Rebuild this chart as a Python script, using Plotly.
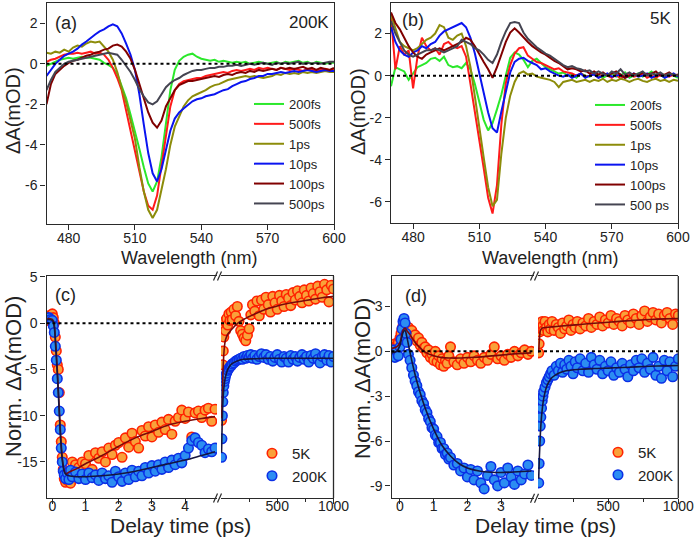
import plotly.graph_objects as go

W, H = 696, 542
def X(p):
    return p / W
def Y(p):
    return 1 - p / H

FONT = "Liberation Sans, Arial, Helvetica, sans-serif"
AX = "#2a2a2a"

# ---------------- spectra (panels a, b) ----------------
wavelength = [470, 472, 474, 476, 478, 480, 482, 484, 486, 488, 490,
              492, 494, 496, 498, 500, 502, 504, 506, 508, 510, 512,
              514, 516, 518, 520, 522, 524, 526, 528, 530, 532, 534,
              536, 538, 540, 542, 544, 546, 548, 550, 552, 554, 556,
              558, 560, 562, 564, 566, 568, 570, 572, 574, 576, 578,
              580, 582, 584, 586, 588, 590, 592, 594, 596, 598, 600]

spec_labels_a = ["200fs", "500fs", "1ps", "10ps", "100ps", "500ps"]
spec_labels_b = ["200fs", "500fs", "1ps", "10ps", "100ps", "500 ps"]

a_200fs = [-0.1, 0.0, 0.1, 0.2, 0.25, 0.3, 0.25, 0.3, 0.35, 0.3, 0.3,
           0.25, 0.2, 0.05, -0.05, -0.2, -0.5, -1.1, -1.7, -2.5, -3.3, -4.2,
           -5.1, -5.9, -6.3, -5.8, -4.6, -2.9, -1.3, -0.3, 0.15, 0.35, 0.45,
           0.5, 0.35, 0.25, 0.2, 0.15, 0.2, 0.1, 0.15, 0.1, 0.05, 0.1,
           0.05, 0.1, 0.0, 0.05, 0.1, 0.05, 0.0, 0.05, 0.1, 0.0, 0.1,
           0.05, 0.1, 0.15, 0.05, 0.1, 0.0, 0.1, 0.05, 0.0, 0.05, 0.05]
a_500fs = [0.1, 0.2, 0.25, 0.35, 0.45, 0.5, 0.5, 0.55, 0.5, 0.55, 0.6,
           0.5, 0.55, 0.45, 0.2, -0.2, -0.7, -1.3, -2.3, -3.3, -4.4, -5.4,
           -6.3, -7.0, -7.2, -6.5, -5.0, -3.4, -2.1, -1.3, -1.0, -0.85, -0.8,
           -0.75, -0.7, -0.7, -0.6, -0.55, -0.5, -0.45, -0.4, -0.45, -0.35, -0.3,
           -0.35, -0.3, -0.25, -0.3, -0.2, -0.25, -0.2, -0.25, -0.3, -0.2, -0.25,
           -0.3, -0.25, -0.3, -0.35, -0.25, -0.3, -0.35, -0.3, -0.25, -0.3, -0.3]
a_1ps = [0.55, 0.5, 0.6, 0.55, 0.7, 0.6, 0.8, 0.9, 0.85, 1.0, 1.1,
         1.05, 1.1, 0.85, 0.6, 0.2, -0.4, -1.2, -1.9, -2.8, -3.7, -5.1,
         -6.3, -7.2, -7.6, -7.2, -6.2, -5.2, -4.0, -3.1, -2.6, -2.1, -1.8,
         -1.6, -1.5, -1.4, -1.3, -1.15, -1.05, -1.0, -0.9, -0.8, -0.75, -0.7,
         -0.65, -0.6, -0.65, -0.6, -0.65, -0.7, -0.65, -0.6, -0.5, -0.55, -0.45,
         -0.5, -0.45, -0.5, -0.4, -0.45, -0.4, -0.45, -0.4, -0.35, -0.4, -0.4]
a_10ps = [-0.6, -0.3, 0.0, 0.2, 0.4, 0.5, 0.6, 0.75, 0.95, 1.1, 1.3,
          1.45, 1.6, 1.7, 1.85, 1.95, 1.85, 1.5, 1.0, 0.45, -0.3, -1.5,
          -3.0, -4.4, -5.4, -5.8, -5.2, -4.2, -3.3, -2.7, -2.4, -2.2, -2.0,
          -1.85, -1.75, -1.7, -1.6, -1.55, -1.5, -1.4, -1.3, -1.25, -1.1, -1.0,
          -0.9, -0.85, -0.75, -0.7, -0.6, -0.6, -0.5, -0.5, -0.45, -0.4, -0.45,
          -0.4, -0.35, -0.4, -0.35, -0.3, -0.35, -0.4, -0.35, -0.3, -0.35, -0.35]
a_100ps = [-2.0, -1.0, -0.5, -0.3, -0.1, 0.05, 0.15, 0.2, 0.3, 0.4, 0.45,
           0.55, 0.6, 0.7, 0.75, 0.9, 0.95, 0.85, 0.6, 0.25, -0.3, -1.0,
           -1.7, -2.4, -2.9, -3.15, -2.8, -2.1, -1.7, -1.3, -1.05, -0.95, -0.85,
           -0.85, -0.8, -0.75, -0.7, -0.65, -0.6, -0.65, -0.55, -0.5, -0.55, -0.45,
           -0.4, -0.45, -0.35, -0.4, -0.3, -0.35, -0.3, -0.25, -0.3, -0.2, -0.25,
           -0.2, -0.25, -0.2, -0.15, -0.25, -0.2, -0.3, -0.2, -0.25, -0.3, -0.2]
a_500ps = [-1.3, -0.8, -0.4, -0.2, 0.0, 0.1, 0.15, 0.2, 0.25, 0.3, 0.35,
           0.4, 0.45, 0.5, 0.55, 0.5, 0.45, 0.2, -0.1, -0.4, -0.8, -1.25,
           -1.6, -1.9, -2.0, -1.85, -1.5, -1.15, -0.95, -0.8, -0.7, -0.55, -0.45,
           -0.35, -0.3, -0.3, -0.25, -0.2, -0.2, -0.15, -0.15, -0.1, -0.1, -0.05,
           -0.1, -0.05, 0.0, -0.05, 0.0, 0.05, 0.0, -0.05, 0.05, 0.0, 0.05,
           0.0, 0.05, 0.1, 0.0, 0.05, 0.0, 0.05, 0.0, 0.05, 0.1, 0.1]

b_200fs = [-0.5, 0.4, 0.3, 0.2, -0.2, 0.1, 0.4, 0.5, 0.6, 0.8, 0.85,
           0.7, 0.9, 0.5, 0.4, 0.45, 0.35, 0.6, 0.3, -0.4, -1.2, -2.1,
           -2.6, -2.25, -1.6, -0.9, 0.0, 0.85, 1.1, 1.0, 0.75, 0.4, 0.7,
           0.8, 0.6, 0.4, 0.3, 0.2, 0.1, 0.15, 0.0, 0.05, -0.1, 0.1,
           0.0, -0.05, 0.1, 0.0, -0.1, 0.0, 0.1, -0.05, 0.0, 0.15, -0.1,
           0.0, 0.1, -0.05, 0.05, 0.2, 0.0, 0.05, -0.1, 0.1, 0.0, -0.1]
b_500fs = [2.8, 0.3, 1.4, 1.0, 1.2, -0.6, 0.9, 1.8, 1.4, 1.2, 1.3,
           1.0, 1.5, 1.6, 1.4, 1.3, 1.4, 0.9, -0.4, -1.7, -2.9, -4.4,
           -5.8, -6.55, -5.2, -2.3, -0.35, 0.5, 1.05, 1.3, 1.35, 0.95, 0.8,
           0.65, 0.6, 0.5, 0.4, 0.3, 0.35, 0.2, 0.15, 0.1, 0.0, 0.1,
           -0.05, 0.0, 0.1, -0.1, 0.05, 0.0, -0.1, 0.05, -0.15, 0.0, 0.1,
           -0.05, 0.0, 0.1, -0.1, 0.0, -0.1, 0.05, 0.0, -0.05, 0.05, 0.0]
b_1ps = [2.9, 2.2, 1.6, 1.4, 1.3, 1.2, 1.3, 1.5, 1.7, 1.8, 2.0,
         2.4, 2.3, 1.8, 1.7, 1.9, 2.0, 1.4, 0.4, -1.0, -2.55, -3.9,
         -5.3, -6.2, -5.9, -3.7, -2.0, -0.95, -0.3, 0.1, 0.2, 0.05, 0.1,
         -0.05, -0.1, -0.15, -0.2, -0.3, -0.55, -0.3, -0.25, -0.2, -0.3, -0.25,
         -0.2, -0.3, -0.2, -0.25, -0.15, -0.3, -0.2, -0.25, -0.15, -0.2, -0.3,
         -0.2, -0.15, -0.25, -0.3, -0.2, -0.15, -0.25, -0.2, -0.3, -0.2, -0.25]
b_10ps = [2.3, 1.6, 1.2, 1.0, 0.9, 1.1, 1.2, 1.4, 1.3, 1.5, 1.6,
          1.9, 2.1, 2.2, 2.3, 2.4, 2.5, 2.3, 1.8, 1.05, 0.1, -0.9,
          -1.75, -2.5, -2.7, -1.7, -0.7, 0.15, 0.65, 0.8, 0.85, 0.7, 0.6,
          0.5, 0.3, 0.35, 0.2, 0.1, 0.0, -0.05, 0.05, -0.1, 0.0, 0.1,
          -0.1, 0.0, 0.05, -0.1, 0.0, 0.1, -0.05, 0.0, 0.05, -0.1, 0.0,
          0.1, -0.05, 0.0, 0.1, -0.1, 0.0, 0.05, -0.1, 0.0, 0.1, -0.05]
b_100ps = [3.0, 2.5, 2.2, 1.8, 1.4, 1.1, 0.9, 0.8, 1.0, 1.1, 1.2,
           1.3, 1.2, 1.3, 1.4, 1.5, 1.6, 1.8, 1.7, 1.4, 1.0, 0.65,
           0.3, -0.1, 0.4, 1.05, 1.6, 2.05, 2.25, 2.05, 1.8, 1.6, 1.4,
           1.25, 1.1, 1.0, 0.85, 0.7, 0.6, 0.45, 0.3, 0.35, 0.3, 0.2,
           0.25, 0.1, 0.2, 0.05, 0.15, 0.0, 0.1, 0.2, 0.05, -0.1, 0.0,
           0.1, 0.0, 0.15, 0.05, 0.1, 0.2, 0.0, 0.05, 0.15, 0.0, 0.05]
b_500ps = [2.6, 2.0, 1.6, 1.2, 1.0, 0.9, 1.0, 1.1, 1.2, 1.2, 1.3,
           1.2, 1.1, 1.2, 1.3, 1.4, 1.7, 1.6, 1.5, 1.3, 1.2, 1.0,
           0.75, 0.6, 1.0, 1.6, 2.1, 2.5, 2.55, 2.5, 2.05, 1.75, 1.55,
           1.35, 1.2, 1.05, 0.95, 0.8, 0.65, 0.5, 0.4, 0.45, 0.35, 0.3,
           0.2, 0.25, 0.1, 0.2, 0.1, 0.0, 0.2, 0.1, 0.3, 0.05, 0.15,
           0.0, 0.1, 0.2, 0.0, 0.1, 0.05, 0.15, 0.0, 0.1, 0.05, 0.0]

spec_colors = ["#2BE82B", "#FF1A1A", "#8C8C0A", "#0A14F0", "#800000", "#454552"]

# ---------------- kinetics (panels c, d) ----------------
t_c_left = [-0.15, -0.1, -0.05, 0.0, 0.03, 0.06, 0.09, 0.12, 0.15, 0.18, 0.21,
            0.24, 0.27, 0.3, 0.33, 0.36, 0.4, 0.45, 0.5, 0.55, 0.6,
            0.7, 0.8, 0.9, 1.0, 1.1, 1.2, 1.3, 1.4, 1.5, 1.6, 1.7, 1.8, 1.9,
            2.0, 2.1, 2.2, 2.3, 2.4, 2.5, 2.6, 2.7, 2.8, 2.9, 3.0, 3.1, 3.2,
            3.3, 3.4, 3.5, 3.6, 3.7, 3.8, 3.9, 4.0, 4.1, 4.2, 4.3, 4.4, 4.5,
            4.6, 4.7, 4.8, 4.9]
c_5K_left = [0.3, 0.8, 0.5, 1.0, 0.6, 0.0, -1.5, -3.0, -4.5, -5.0, -7.5,
             -11.0, -12.8, -14.5, -15.8, -16.8, -17.2, -17.0, -16.8, -17.3, -15.0,
             -15.3, -15.6, -15.0, -15.2, -14.3, -15.8, -14.0, -14.6, -13.9, -15.0,
             -13.5, -14.2, -13.2, -12.9, -14.5, -12.4, -13.4, -11.9, -12.8, -13.5,
             -11.6, -12.2, -11.2, -12.3, -11.0, -11.8, -10.7, -11.5, -10.4, -12.0,
             -10.6, -10.2, -9.4, -10.3, -9.6, -12.3, -9.7, -9.5, -10.2, -9.4,
             -9.2, -10.6, -9.3]
c_200K_left = [0.5, 0.6, 0.4, 0.3, -0.3, -1.0, -2.5, -4.0, -6.0, -7.5, -9.5,
               -11.5, -13.5, -15.0, -16.0, -16.4, -16.8, -16.2, -16.9, -15.9, -16.6,
               -16.1, -16.8, -16.3, -16.9, -16.2, -16.7, -16.4, -17.0, -16.2, -16.8,
               -16.5, -17.2, -16.0, -16.6, -17.1, -16.2, -16.9, -15.9, -16.6, -16.0,
               -16.5, -15.6, -16.2, -15.4, -16.0, -15.3, -15.8, -15.0, -15.6, -14.8,
               -15.3, -14.6, -15.1, -14.3, -13.5, -12.7, -12.4, -12.9, -13.2, -14.0,
               -13.6, -13.9, -13.5]

t_right = [5, 8, 12, 16, 20, 25, 30, 35, 40, 50, 60, 70, 80, 90, 100,
           115, 130, 145, 160, 175, 190, 205, 220, 235, 250, 265, 280,
           300, 320, 340, 360, 380, 400, 420, 440, 460, 480, 500, 520,
           540, 560, 580, 600, 620, 640, 660, 680, 700, 720, 740, 760,
           780, 800, 820, 840, 860, 880, 900, 920, 940, 960, 980, 1000]
c_5K_right = [-10.5, -8.5, -6.0, -4.5, -3.0, -1.5, -0.5, 0.2, -0.8,
              0.5, -0.2, 1.0, 0.3, 1.2, 0.4,
              1.5, 0.8, 1.8, 0.2, -0.8, -1.2, -1.6, -1.9, -1.3, -0.6, 0.9, 2.0,
              1.3, 2.4, 0.8, 2.5, 1.5, 2.8, 2.0, 1.2, 2.9, 2.2, 1.5, 3.0,
              2.4, 1.8, 3.1, 2.7, 1.9, 3.3, 2.5, 3.5, 2.9, 2.2, 3.6, 3.0,
              2.4, 3.8, 3.2, 2.6, 4.0, 3.4, 2.8, 4.2, 3.6, 2.3, 4.1, 3.7]
c_200K_right = [-14.5, -12.5, -10.0, -8.5, -7.5, -6.8, -6.3, -6.0, -5.7,
                -5.4, -5.1, -4.9, -4.7, -4.6, -4.4,
                -4.3, -4.1, -4.0, -3.9, -3.8, -3.9, -3.6, -3.8, -3.5, -3.7, -3.4, -3.8,
                -3.5, -3.9, -3.6, -3.3, -3.7, -3.4, -3.9, -3.6, -4.1, -3.7, -3.4, -3.9,
                -4.2, -3.6, -3.8, -4.2, -3.5, -3.9, -3.6, -4.1, -3.7, -3.4, -3.9, -3.6,
                -4.2, -3.5, -3.8, -3.3, -3.9, -4.3, -3.6, -3.4, -4.0, -3.5, -4.2, -3.6]

fit_t_c_left = [-0.15, 0.0, 0.05, 0.1, 0.15, 0.2, 0.25, 0.3, 0.35, 0.4, 0.5,
                0.75, 1.0, 1.5, 2.0, 2.5, 3.0, 3.5, 4.0, 4.5, 4.9]
fit_c_5K_left = [0.5, 0.4, 0.0, -2.0, -5.0, -8.5, -12.0, -14.5, -15.8, -16.3, -16.1,
                 -15.7, -15.2, -14.3, -13.3, -12.4, -11.7, -11.0, -10.6, -10.3, -10.1]
fit_c_200K_left = [0.4, 0.3, -0.2, -2.5, -5.5, -9.0, -12.5, -14.8, -15.9, -16.3, -16.5,
                   -16.6, -16.6, -16.5, -16.3, -16.0, -15.6, -15.2, -14.8, -14.3, -13.9]

fit_t_right = [5, 10, 15, 20, 30, 40, 60, 80, 100, 150, 200, 300, 400, 500,
               600, 700, 800, 900, 1000]
fit_c_5K_right = [-10.3, -8.5, -6.5, -4.5, -2.6, -1.8, -1.2, -0.9, -0.6, 0.0, 0.4,
                  1.0, 1.5, 1.85, 2.15, 2.35, 2.55, 2.75, 2.9]
fit_c_200K_right = [-14.0, -11.0, -9.0, -7.8, -6.5, -5.8, -5.0, -4.6, -4.35, -4.05, -3.9,
                    -3.85, -3.8, -3.8, -3.8, -3.8, -3.8, -3.8, -3.8]

t_d_left = [-0.25, -0.2, -0.15, -0.1, -0.05, 0.0, 0.03, 0.06, 0.09, 0.12, 0.15,
            0.18, 0.21, 0.25, 0.3, 0.35, 0.4, 0.45, 0.5, 0.55, 0.6, 0.65, 0.7,
            0.75, 0.8, 0.85, 0.9, 0.95, 1.0, 1.05, 1.1, 1.15, 1.2, 1.25, 1.3,
            1.35, 1.4, 1.45, 1.5, 1.6, 1.7, 1.8, 1.9, 2.0, 2.1, 2.2, 2.3, 2.4,
            2.5, 2.6, 2.7, 2.8, 2.9, 3.0, 3.1, 3.2, 3.3, 3.4, 3.5, 3.6, 3.7,
            3.8, 3.9]
d_5K_left = [0.4, 0.3, 0.5, 0.4, 0.6, 0.9, 1.2, 1.5, 1.7, 1.6, 1.8,
             1.5, 1.4, 1.6, 1.2, 1.4, 1.0, 1.1, 0.7, 0.9, 0.4, 0.6, 0.2,
             0.3, -0.1, 0.1, -0.4, -0.2, -0.6, 0.0, -0.7, -0.3, -0.9, -0.5, -1.0,
             -0.6, -0.8, -0.3, 0.3, -0.7, -0.9, -0.5, -0.8, -0.4, -0.7, -0.3, -0.6,
             -0.8, -0.4, -0.6, -0.2, 0.3, -0.5, -0.3, -0.6, -0.2, -0.4, 0.0, -0.3,
             -0.1, 0.1, -0.2, 0.0]
d_200K_left = [-0.2, 0.1, -0.4, 0.0, -0.3, 0.3, 0.8, 1.5, 2.0, 2.2, 1.9,
               1.2, 0.6, -0.2, -0.6, -1.1, -1.6, -2.0, -2.3, -2.7, -2.9, -3.3, -3.5,
               -3.9, -4.1, -4.5, -4.7, -5.1, -5.2, -5.6, -5.7, -6.1, -6.1, -6.5, -6.5,
               -6.9, -6.8, -7.2, -7.1, -7.6, -7.5, -8.0, -7.8, -8.4, -7.9, -8.6, -8.0,
               -8.8, -9.2, -8.3, -7.7, -8.6, -9.0, -8.1, -8.8, -7.8, -8.4, -8.9, -8.0,
               -8.6, -8.2, -7.6, -8.3]
d_5K_right = [-0.1, 0.5, 1.3, 1.7, 1.9, 1.5, 2.0, 1.7, 1.4,
              2.0, 1.6, 1.3, 1.8, 1.5, 2.0,
              1.4, 1.8, 1.6, 1.2, 1.9, 1.5, 1.7, 2.1, 1.4, 1.8, 1.6, 2.0,
              1.5, 1.9, 1.7, 2.2, 1.6, 2.0, 1.8, 2.3, 1.7, 2.1, 1.9, 2.4,
              1.8, 2.2, 2.0, 1.7, 2.4, 2.1, 1.9, 2.5, 2.2, 1.8, 2.4, 2.7,
              2.0, 2.3, 2.6, 2.1, 2.5, 1.9, 2.4, 2.6, 2.2, 1.8, 2.5, 2.4]
d_200K_right = [-8.8, -7.5, -6.0, -5.0, -4.4, -3.8, -3.3, -3.0, -2.7,
                -2.4, -2.1, -1.9, -1.7, -1.5, -1.3,
                -1.6, -1.0, -1.3, -0.8, -1.4, -0.9, -1.2, -0.6, -1.0, -1.5, -0.7, -1.1,
                -0.5, -1.3, -0.8, -1.4, -0.4, -0.9, -1.2, -0.6, -1.5, -1.0, -1.3, -0.7,
                -1.6, -1.1, -1.4, -0.8, -1.2, -1.7, -0.9, -1.3, -0.6, -1.1, -0.5, -1.4,
                -0.8, -1.2, -0.4, -1.6, -1.0, -1.8, -0.6, -1.3, -0.7, -1.7, -1.0, -0.5]

fit_t_d_left = [-0.25, -0.1, 0.0, 0.05, 0.1, 0.15, 0.2, 0.3, 0.4, 0.5, 0.75,
                1.0, 1.25, 1.5, 1.75, 2.0, 2.5, 3.0, 3.5, 3.9]
fit_d_5K_left = [0.2, 0.3, 0.6, 1.1, 1.45, 1.55, 1.4, 1.1, 0.75, 0.45, -0.05,
                 -0.3, -0.42, -0.45, -0.45, -0.42, -0.35, -0.25, -0.15, -0.1]
fit_d_200K_left = [-0.1, 0.0, 0.4, 0.9, 1.3, 1.4, 1.0, -0.1, -1.1, -2.0, -3.8,
                   -5.2, -6.3, -7.0, -7.5, -7.8, -8.05, -8.1, -8.05, -8.0]
fit_d_5K_right = [-0.1, 0.8, 1.3, 1.45, 1.55, 1.58, 1.6, 1.62, 1.64, 1.68, 1.72,
                  1.8, 1.88, 1.95, 2.02, 2.08, 2.13, 2.17, 2.2]
fit_d_200K_right = [-8.5, -7.0, -5.9, -5.0, -3.9, -3.2, -2.4, -2.0, -1.75, -1.45, -1.3,
                    -1.2, -1.15, -1.12, -1.08, -1.04, -1.0, -0.97, -0.95]

# ---------------- figure ----------------
fig = go.Figure()

for name, ys, col in zip(spec_labels_a, [a_200fs, a_500fs, a_1ps, a_10ps, a_100ps, a_500ps], spec_colors):
    fig.add_trace(go.Scatter(x=wavelength, y=ys, mode="lines", name=name,
                             line=dict(color=col, width=2), xaxis="x", yaxis="y",
                             legend="legend"))
for name, ys, col in zip(spec_labels_b, [b_200fs, b_500fs, b_1ps, b_10ps, b_100ps, b_500ps], spec_colors):
    fig.add_trace(go.Scatter(x=wavelength, y=ys, mode="lines", name=name,
                             line=dict(color=col, width=2), xaxis="x2", yaxis="y2",
                             legend="legend2"))

MK5 = dict(size=9.5, color="#F9A13A", line=dict(color="#FF2200", width=1.6))
MK200 = dict(size=9.5, color="#2C8DF2", line=dict(color="#0B2FE6", width=1.6))
FIT5 = dict(color="#7A0A0A", width=1.6)
FIT200 = dict(color="#15153F", width=1.6)

def kinetics(xl, xr, ya, leg, tl, y5l, y2l, tr, y5r, y2r, ftl, f5l, f2l, f5r, f2r):
    fig.add_trace(go.Scatter(x=tl, y=y5l, mode="markers", marker=MK5, name="5K",
                             xaxis=xl, yaxis=ya, legend=leg, showlegend=True))
    fig.add_trace(go.Scatter(x=tr, y=y5r, mode="markers", marker=MK5, name="5K",
                             xaxis=xr, yaxis=ya, showlegend=False))
    fig.add_trace(go.Scatter(x=tl, y=y2l, mode="markers", marker=MK200, name="200K",
                             xaxis=xl, yaxis=ya, legend=leg, showlegend=True))
    fig.add_trace(go.Scatter(x=tr, y=y2r, mode="markers", marker=MK200, name="200K",
                             xaxis=xr, yaxis=ya, showlegend=False))
    for xx, yy, ax, ln in [(ftl, f5l, xl, FIT5), (fit_t_right, f5r, xr, FIT5),
                           (ftl, f2l, xl, FIT200), (fit_t_right, f2r, xr, FIT200)]:
        fig.add_trace(go.Scatter(x=xx, y=yy, mode="lines", line=dict(ln, shape="spline"),
                                 xaxis=ax, yaxis=ya, showlegend=False, hoverinfo="skip"))

kinetics("x3", "x4", "y3", "legend3", t_c_left, c_5K_left, c_200K_left,
         t_right, c_5K_right, c_200K_right,
         fit_t_c_left, fit_c_5K_left, fit_c_200K_left, fit_c_5K_right, fit_c_200K_right)
kinetics("x5", "x6", "y4", "legend4", t_d_left, d_5K_left, d_200K_left,
         t_right, d_5K_right, d_200K_right,
         fit_t_d_left, fit_d_5K_left, fit_d_200K_left, fit_d_5K_right, fit_d_200K_right)

TICKF = dict(family=FONT, size=14, color="#222")
def xax(dom, rng, tv, anchor, standoff, minor=None):
    d = dict(domain=[X(dom[0]), X(dom[1])], range=rng, tickmode="array", tickvals=tv,
             ticks="outside", ticklen=5, tickwidth=1.3, tickcolor=AX,
             showline=True, mirror=True, linecolor=AX, linewidth=1.3,
             showgrid=False, zeroline=False, tickfont=TICKF, anchor=anchor,
             automargin=False, ticklabelstandoff=standoff)
    if minor is not None:
        d["minor"] = minor
    return d

def yax(dom, rng, tv, anchor, mirror=True):
    return dict(domain=[Y(dom[1]), Y(dom[0])], range=rng, tickmode="array", tickvals=tv,
                ticktext=[str(v) for v in tv],
                ticks="outside", ticklen=5, tickwidth=1.3, tickcolor=AX,
                showline=True, mirror=mirror, linecolor=AX, linewidth=1.3,
                showgrid=False, zeroline=False, tickfont=TICKF, anchor=anchor,
                automargin=False)

MINOR = dict(tickmode="array", tickvals=[250, 750], ticks="outside", ticklen=3,
             tickwidth=1.2, tickcolor=AX)

fig.update_layout(
    xaxis=xax((46.5, 334), [470, 600], [480, 510, 540, 570, 600], "y", -4),
    yaxis=yax((3, 224), [-7.9, 3.0], [-6, -4, -2, 0, 2], "x"),
    xaxis2=xax((391, 678), [470, 600], [480, 510, 540, 570, 600], "y2", -4),
    yaxis2=yax((3, 223), [-7.0, 3.45], [-6, -4, -2, 0, 2], "x2"),
    xaxis3=xax((46.5, 217), [-0.175, 4.96], [0, 1, 2, 3, 4], "y3", -10),
    xaxis4=xax((221, 333.5), [0, 1000], [500, 1000], "y3", -10, minor=MINOR),
    yaxis3=yax((276, 498), [-18.9, 5.1], [-15, -10, -5, 0, 5], "x3", mirror=False),
    xaxis5=xax((391.5, 534), [-0.252, 3.98], [0, 1, 2, 3], "y4", -10),
    xaxis6=xax((538, 678.3), [0, 1000], [500, 1000], "y4", -10, minor=MINOR),
    yaxis4=yax((276, 498.3), [-9.83, 5.04], [-9, -6, -3, 0, 3], "x5", mirror=False),
)

# legends
def leg(xp, yp, size):
    return dict(x=X(xp), y=Y(yp), xanchor="left", yanchor="top", bgcolor="rgba(0,0,0,0)",
                borderwidth=0, font=dict(family=FONT, size=size, color="#222"),
                itemwidth=30, tracegroupgap=0, itemsizing="trace")
fig.update_layout(legend=leg(249, 89, 13), legend2=leg(590, 90, 13),
                  legend3=leg(252, 437, 15), legend4=leg(598, 436, 15))

# shapes: zero lines, right frame edges, axis breaks
shapes = []
for xr, yr in [("x domain", "y"), ("x2 domain", "y2"), ("x3 domain", "y3"),
               ("x4 domain", "y3"), ("x5 domain", "y4"), ("x6 domain", "y4")]:
    shapes.append(dict(type="line", xref=xr, yref=yr, x0=0, x1=1, y0=0, y1=0,
                       line=dict(color="black", width=2, dash="dot"), layer="above"))
for xe, yt, yb in [(333.5, 276, 498), (678.3, 276, 498.3)]:
    shapes.append(dict(type="line", xref="paper", yref="paper", x0=X(xe), x1=X(xe),
                       y0=Y(yb), y1=Y(yt), line=dict(color=AX, width=1.3)))
for xb, yt, yb in [(217, 276, 498), (534, 276, 498.3)]:
    for yy in (yt, yb):
        for dx in (-3.5, 0.5):
            shapes.append(dict(type="line", xref="paper", yref="paper",
                               x0=X(xb + dx), x1=X(xb + dx + 4), y0=Y(yy + 4.5), y1=Y(yy - 4.5),
                               line=dict(color=AX, width=1.2)))
fig.update_layout(shapes=shapes)

# annotations
def txt(s, xp, yp, size, angle=0, xanchor="center"):
    return dict(text=s, x=X(xp), y=Y(yp), xref="paper", yref="paper", showarrow=False,
                xanchor=xanchor, yanchor="middle", textangle=angle,
                font=dict(family=FONT, size=size, color="#222"))
ann = [
    txt("(a)", 66, 23, 18), txt("200K", 331, 22, 17, xanchor="right"),
    txt("(b)", 413, 20, 18), txt("5K", 673, 19, 17, xanchor="right"),
    txt("(c)", 65, 295, 18), txt("(d)", 416, 296, 18),
    txt("Wavelength (nm)", 189, 258, 18), txt("Wavelength (nm)", 550, 258, 18),
    txt("Delay time (ps)", 180, 525, 21), txt("Delay time (ps)", 545, 525, 21),
    txt("ΔA(mOD)", 13, 111, 20, angle=-90), txt("ΔA(mOD)", 358, 112, 20, angle=-90),
    txt("Norm. ΔA(mOD)", 13, 377, 22, angle=-90), txt("Norm. ΔA(mOD)", 362, 378, 22, angle=-90),
]
fig.update_layout(annotations=ann)

fig.update_layout(width=W, height=H, autosize=False,
                  margin=dict(l=0, r=0, t=0, b=0, pad=0, autoexpand=False),
                  paper_bgcolor="white", plot_bgcolor="white",
                  font=dict(family=FONT, color="#222"), showlegend=True)

fig.write_html("out.html")
